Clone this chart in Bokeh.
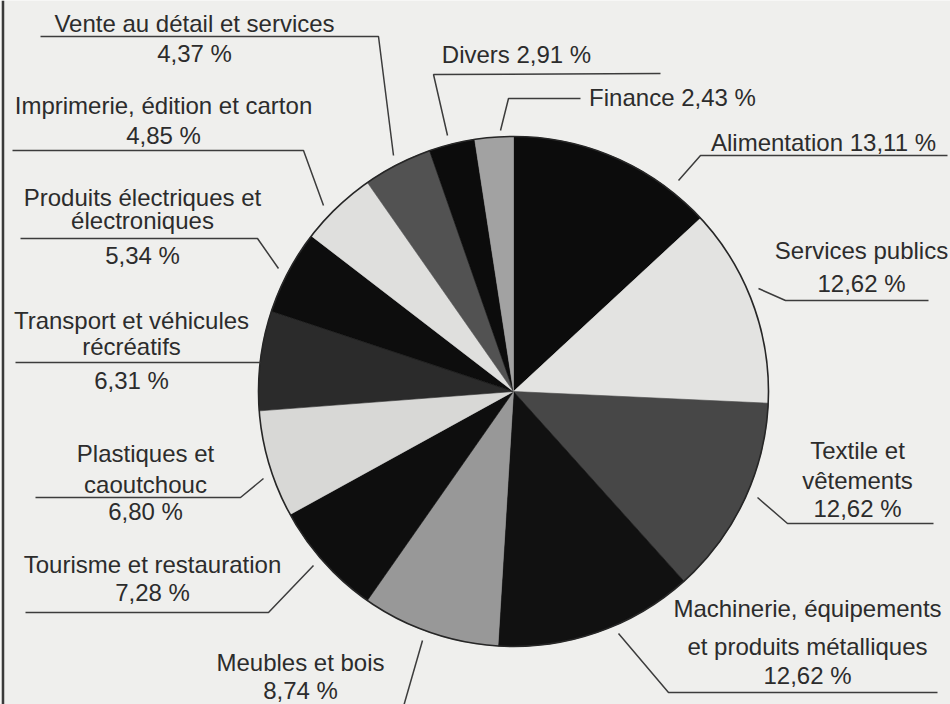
import math
from bokeh.plotting import figure
from bokeh.models import ColumnDataSource, Range1d
from bokeh.core.properties import value
from bokeh.embed import file_html
from bokeh.resources import INLINE

# ---- data ----
categories = [
    "Alimentation", "Services publics", "Textile et vêtements",
    "Machinerie, équipements et produits métalliques", "Meubles et bois",
    "Tourisme et restauration", "Plastiques et caoutchouc",
    "Transport et véhicules récréatifs", "Produits électriques et électroniques",
    "Imprimerie, édition et carton", "Vente au détail et services",
    "Divers", "Finance",
]
shares = [13.11, 12.62, 12.62, 12.62, 8.74, 7.28, 6.80, 6.31, 5.34, 4.85, 4.37, 2.91, 2.43]
label_lines = [
    ["Alimentation 13,11 %"],
    ["Services publics", "12,62 %"],
    ["Textile et", "vêtements", "12,62 %"],
    ["Machinerie, équipements", "et produits métalliques", "12,62 %"],
    ["Meubles et bois", "8,74 %"],
    ["Tourisme et restauration", "7,28 %"],
    ["Plastiques et", "caoutchouc", "6,80 %"],
    ["Transport et véhicules", "récréatifs", "6,31 %"],
    ["Produits électriques et", "électroniques", "5,34 %"],
    ["Imprimerie, édition et carton", "4,85 %"],
    ["Vente au détail et services", "4,37 %"],
    ["Divers 2,91 %"],
    ["Finance 2,43 %"],
]

# ---- styles / layout ----
slice_colors = ["#0c0c0c", "#e3e3e1", "#474747", "#111111", "#989898", "#0e0e0e",
                "#d8d8d6", "#2b2b2b", "#0d0d0d", "#dfdfdd", "#525252", "#0c0c0c", "#a2a2a2"]
W_PLOT, H_PLOT = 950, 704
H = H_PLOT  # flip y so that layout coords read like pixels from the top
cx, cy, R = 513, H - 391, 255

# label anchor x (center) and baselines (pixel y from top) per line
label_x = [823, 861, 857, 807, 300, 152, 145, 131, 142, 163, 194, 516, 672]
label_base = [
    [142], [250, 283], [450, 480, 508], [608, 646, 675], [662, 690],
    [564, 592], [453, 484, 511], [320, 346, 380], [197, 220, 255],
    [105, 135], [23, 53], [54], [97],
]
# leader lines (pixel coords from top)
leaders = [
    [(947, 155), (700, 155), (678, 180)],
    [(928, 300), (785, 300), (758, 288)],
    [(933, 523), (787, 523), (757, 497)],
    [(937, 692), (668, 692), (618, 633)],
    [(403, 706), (422, 640)],
    [(25, 612), (268, 612), (313, 565)],
    [(35, 497), (240, 497), (263, 478)],
    [(15, 362), (260, 362)],
    [(20, 238), (257, 238), (278, 268)],
    [(12, 150), (303, 150), (323, 205)],
    [(40, 36), (378, 36), (393, 155)],
    [(660, 73), (433, 74), (447, 135)],
    [(580, 98), (508, 98), (500, 130)],
]

p = figure(width=W_PLOT, height=H_PLOT, output_backend="svg", toolbar_location=None,
           x_range=Range1d(0, W_PLOT), y_range=Range1d(0, H_PLOT),
           min_border=0, background_fill_color="#efefed", border_fill_color="#efefed",
           outline_line_color=None)
p.axis.visible = False
p.grid.visible = False

# pie wedges from data
total = sum(shares)
starts, ends = [], []
acc = 0.0
for s in shares:
    starts.append(math.pi / 2 - 2 * math.pi * acc / total)
    acc += s
    ends.append(math.pi / 2 - 2 * math.pi * acc / total)
src = ColumnDataSource(dict(cat=categories, share=shares, start=starts, end=ends, color=slice_colors))
p.wedge(x=cx, y=cy, radius=R, start_angle="start", end_angle="end", direction="clock",
        fill_color="color", line_color="color", line_width=0.6, source=src)
p.circle(x=[cx], y=[cy], radius=R, fill_color=None, line_color="#262626", line_width=1.6)

# leader lines
p.multi_line(xs=[[pt[0] for pt in l] for l in leaders],
             ys=[[H - pt[1] for pt in l] for l in leaders],
             line_color="#3c3c3c", line_width=1.5)

# labels
tx, ty, tt = [], [], []
for i, lines in enumerate(label_lines):
    for line, b in zip(lines, label_base[i]):
        tx.append(label_x[i]); ty.append(H - b); tt.append(line)
p.text(x=tx, y=ty, text=tt, text_align="center", text_baseline="alphabetic",
       text_font=value("Liberation Sans"), text_font_size="24px", text_color="#2c2c2c")

# left frame border
p.line(x=[2.5, 2.5], y=[0, H_PLOT], line_color="#3a3a3a", line_width=2.5)

open("out.html", "w").write(file_html(p, INLINE))
